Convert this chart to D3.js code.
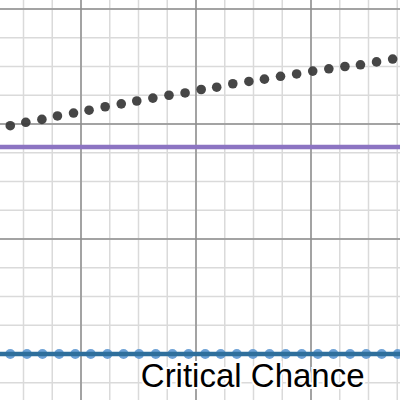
<!DOCTYPE html>
<html lang="en">

<head>
    <meta charset="UTF-8">
    <title>Critical Chance</title>
    <style>
        html, body {
            margin: 0;
            padding: 0;
            background: #fff;
        }

        svg {
            display: block;
        }
    </style>
</head>

<body>
    <svg></svg>

    <script src="https://d3js.org/d3.v7.min.js"></script>
    <script>
        // values (graph units)
        const grayX = [0.77, 1.04, 1.32, 1.59, 1.87, 2.14, 2.42, 2.70, 2.97, 3.25, 3.53, 3.81, 4.09,
            4.36, 4.64, 4.92, 5.19, 5.47, 5.75, 6.03, 6.31, 6.59, 6.86, 7.14, 7.42];
        const grayY = [5.97, 6.03, 6.08, 6.14, 6.19, 6.24, 6.30, 6.35, 6.40, 6.45, 6.50, 6.54, 6.60,
            6.64, 6.70, 6.74, 6.78, 6.83, 6.87, 6.92, 6.96, 7.00, 7.03, 7.08, 7.13];

        const blueX = [0.77, 1.06, 1.33, 1.62, 1.90, 2.17, 2.46, 2.74, 3.01, 3.30, 3.59, 3.87, 4.16,
            4.43, 4.71, 4.99, 5.28, 5.56, 5.84, 6.12, 6.39, 6.68, 6.96, 7.23, 7.51];
        const blueY = [2.0, 2.0, 2.0, 2.0, 2.0, 2.0, 2.0, 2.0, 2.0, 2.0, 2.0, 2.0, 2.0,
            2.0, 2.0, 2.0, 2.0, 2.0, 2.0, 2.0, 2.0, 2.0, 2.0, 2.0, 2.0];

        const purpleLevel = 5.6;
        const blueLevel = 2.0;
        const labelText = "Critical Chance";

        const width = 400;
        const height = 400;

        const svg = d3.select("svg")
            .attr("width", width)
            .attr("height", height);

        const x = d3.scaleLinear().domain([0.5913, 7.5478]).range([0, width]);
        const y = d3.scaleLinear().domain([1.2, 8.1565]).range([height, 0]);

        // grid: minor every 0.5, major every 2
        function steps(scale, step) {
            const [a, b] = scale.domain();
            return d3.range(Math.ceil(a / step), Math.floor(b / step) + 1).map(k => k * step);
        }

        function drawGrid(cls, step, color) {
            const g = svg.append("g").attr("class", cls);
            g.selectAll("line.v")
                .data(steps(x, step))
                .join("line")
                .attr("class", "v")
                .attr("x1", d => x(d)).attr("x2", d => x(d))
                .attr("y1", 0).attr("y2", height)
                .attr("stroke", color).attr("stroke-width", 1.5);
            g.selectAll("line.h")
                .data(steps(y, step))
                .join("line")
                .attr("class", "h")
                .attr("y1", d => y(d)).attr("y2", d => y(d))
                .attr("x1", 0).attr("x2", width)
                .attr("stroke", color).attr("stroke-width", 1.5);
        }

        drawGrid("minor", 0.5, "#dadada");
        drawGrid("major", 2, "#8e8e8e");

        // purple level line
        svg.append("line")
            .attr("x1", 0).attr("x2", width)
            .attr("y1", y(purpleLevel)).attr("y2", y(purpleLevel))
            .attr("stroke", "#8c74c2").attr("stroke-width", 4.5);

        // blue points + line on top
        svg.append("g")
            .selectAll("circle")
            .data(blueX)
            .join("circle")
            .attr("cx", d => x(d))
            .attr("cy", (d, i) => y(blueY[i]))
            .attr("r", 5)
            .attr("fill", "#5e98d2")
            .attr("opacity", 0.9);

        svg.append("line")
            .attr("x1", 0).attr("x2", width)
            .attr("y1", y(blueLevel)).attr("y2", y(blueLevel))
            .attr("stroke", "#2f6f9c").attr("stroke-width", 4.5);

        // gray dotted series
        svg.append("g")
            .selectAll("circle")
            .data(grayX)
            .join("circle")
            .attr("cx", d => x(d))
            .attr("cy", (d, i) => y(grayY[i]))
            .attr("r", 4.8)
            .attr("fill", "#3c3c3c")
            .attr("opacity", 0.95);

        // label
        svg.append("text")
            .attr("x", x(3.04))
            .attr("y", y(1.42))
            .attr("font-family", "'Liberation Sans', Arial, sans-serif")
            .attr("font-size", 33)
            .attr("fill", "#000")
            .attr("stroke", "#fff")
            .attr("stroke-width", 4)
            .attr("paint-order", "stroke")
            .text(labelText);
    </script>
</body>

</html>
